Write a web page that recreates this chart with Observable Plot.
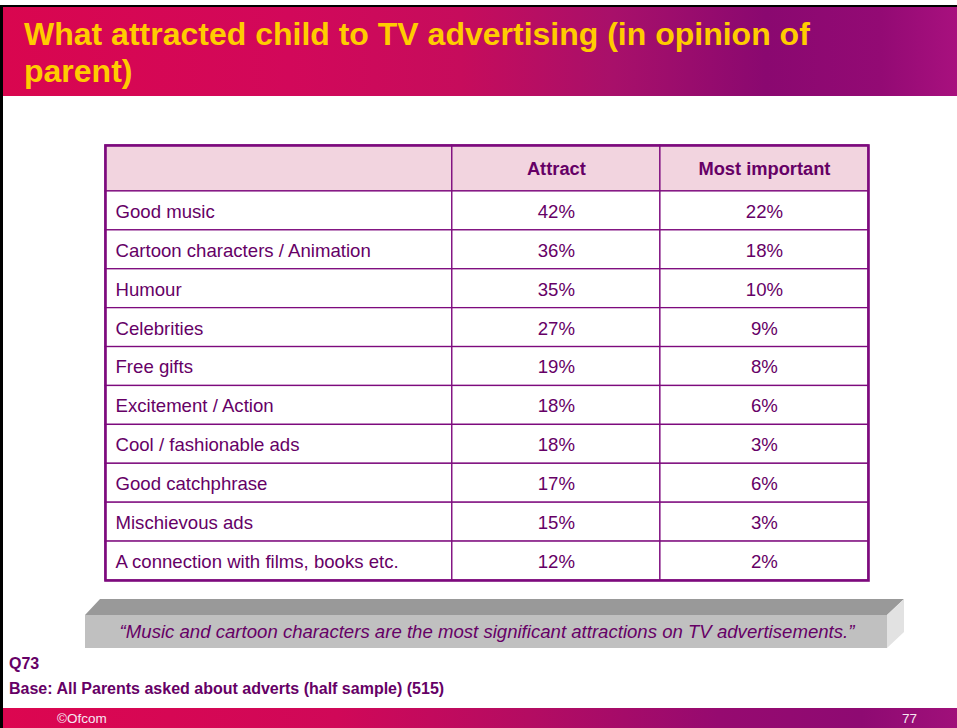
<!DOCTYPE html>
<html><head><meta charset="utf-8">
<script src="https://cdn.jsdelivr.net/npm/d3@7"></script>
<script src="https://cdn.jsdelivr.net/npm/@observablehq/plot@0.6"></script>
<style>
html,body{margin:0;padding:0;background:#fff;}
#page{position:relative;width:957px;height:728px;overflow:hidden;font-family:Arial,"Liberation Sans",sans-serif;}
#frame{position:absolute;left:0px;top:5px;width:970px;height:740px;border-left:3px solid #000;border-top:2px solid #000;box-sizing:border-box;}
#banner{position:absolute;left:3px;top:7px;right:0;height:89px;
 background:linear-gradient(90deg,#d9064f 0%,#d2085a 30%,#c60c5c 48%,#a8106a 64%,#8a0870 80%,#930a74 92%,#a8107e 100%);}
#title{position:absolute;left:24px;top:16px;margin:0;color:#ffcc00;font-weight:bold;font-size:32px;line-height:37px;white-space:nowrap;}
#plot{position:absolute;left:0;top:96px;}
#deco{position:absolute;left:0;top:0;pointer-events:none;}
#bottombar{position:absolute;left:3px;top:708px;right:0;height:20px;
 background:linear-gradient(90deg,#dc0650 0%,#d00858 35%,#b40c62 55%,#960a70 75%,#8e0a72 90%,#a0107a 100%);}
</style>
</head>
<body>
<div id="page">
  <div id="banner"></div>
  <div id="frame"></div>
  <div id="title">What attracted child to TV advertising (in opinion of<br>parent)</div>
  <div id="plot"></div>
  <div id="bottombar"></div>
  <svg id="deco" width="957" height="728" xmlns="http://www.w3.org/2000/svg">
    <polygon points="100,599 904,599 887,615 85,615" fill="#999999"/>
    <rect x="85" y="615" width="802" height="33" fill="#c0c0c0"/>
    <polygon points="887,615 904,599 904,632 887,648" fill="#e2e2e2"/>
    <text id="quote" x="487" y="638" text-anchor="middle" font-family="Arial, 'Liberation Sans', sans-serif" font-style="italic" font-size="18.6" fill="#660066"></text>
    <text id="q" x="9" y="669" font-family="Arial, 'Liberation Sans', sans-serif" font-weight="bold" font-size="16" fill="#660066"></text>
    <text id="base" x="9" y="694" font-family="Arial, 'Liberation Sans', sans-serif" font-weight="bold" font-size="16" fill="#660066"></text>
    <text id="copy" x="57" y="723" font-family="Arial, 'Liberation Sans', sans-serif" font-size="13.5" fill="#f6e8f2"></text>
    <text id="pagenum" x="902" y="723" font-family="Arial, 'Liberation Sans', sans-serif" font-size="13.5" fill="#f6e8f2"></text>
  </svg>
</div>
<script>
// ---- Data ----
const categories = [
  "Good music",
  "Cartoon characters / Animation",
  "Humour",
  "Celebrities",
  "Free gifts",
  "Excitement / Action",
  "Cool / fashionable ads",
  "Good catchphrase",
  "Mischievous ads",
  "A connection with films, books etc."
];
const attract = [42, 36, 35, 27, 19, 18, 18, 17, 15, 12];
const mostImportant = [22, 18, 10, 9, 8, 6, 3, 6, 3, 2];
const columnHeaders = ["", "Attract", "Most important"];
const quoteText = "\u201CMusic and cartoon characters are the most significant attractions on TV advertisements.\u201D";
const questionText = "Q73";
const baseText = "Base: All Parents asked about adverts (half sample) (515)";
const copyrightText = "\u00A9Ofcom";
const pageNumber = "77";

// ---- Layout (table geometry in scale units) ----
const HEADER = 1.18;             // header row height, in body-row units
const colEdges = [0, 5, 8, 11];  // column boundaries on the x scale
const mid = j => (colEdges[j] + colEdges[j + 1]) / 2;
const purple = "#7d0a7d";
const textColor = "#660066";

const rows = categories.map((c, i) => ({
  category: c, attract: attract[i], most: mostImportant[i],
  y1: HEADER + i, y2: HEADER + i + 1
}));
const headerCells = columnHeaders.map((h, j) => ({x1: colEdges[j], x2: colEdges[j + 1], y1: 0, y2: HEADER}));
const bodyCells = [];
columnHeaders.forEach((h, j) => rows.forEach(r => bodyCells.push({x1: colEdges[j], x2: colEdges[j + 1], y1: r.y1, y2: r.y2})));
const ymid = d => (d.y1 + d.y2) / 2;

const chart = Plot.plot({
  width: 957,
  height: 500,
  marginTop: 49,
  marginBottom: 16,
  marginLeft: 105,
  marginRight: 89,
  x: {domain: [0, colEdges[colEdges.length - 1]], axis: null},
  y: {domain: [0, HEADER + categories.length], reverse: true, axis: null},
  style: {fontFamily: "Arial, 'Liberation Sans', sans-serif", background: "transparent", overflow: "visible"},
  marks: [
    Plot.rect(headerCells, {x1: "x1", x2: "x2", y1: "y1", y2: "y2", fill: "#f2d4df", stroke: purple, strokeWidth: 1.3}),
    Plot.rect(bodyCells, {x1: "x1", x2: "x2", y1: "y1", y2: "y2", fill: "#ffffff", stroke: purple, strokeWidth: 1.3}),
    Plot.frame({stroke: purple, strokeWidth: 2.6}),
    Plot.text(rows, {x: () => colEdges[0], y: ymid, text: "category", textAnchor: "start", dx: 10, dy: 1, fontSize: 18.6, fill: textColor}),
    Plot.text(rows, {x: () => mid(1), y: ymid, text: d => d.attract + "%", dy: 1, fontSize: 18.6, fill: textColor}),
    Plot.text(rows, {x: () => mid(2), y: ymid, text: d => d.most + "%", dy: 1, fontSize: 18.6, fill: textColor}),
    Plot.text(columnHeaders.slice(1), {x: (d, i) => mid(i + 1), y: () => HEADER / 2, text: d => d, dy: 1, fontSize: 18.3, fontWeight: "bold", fill: textColor})
  ]
});
document.getElementById("plot").appendChild(chart);
document.getElementById("quote").textContent = quoteText;
document.getElementById("q").textContent = questionText;
document.getElementById("base").textContent = baseText;
document.getElementById("copy").textContent = copyrightText;
document.getElementById("pagenum").textContent = pageNumber;
</script>
</body></html>
